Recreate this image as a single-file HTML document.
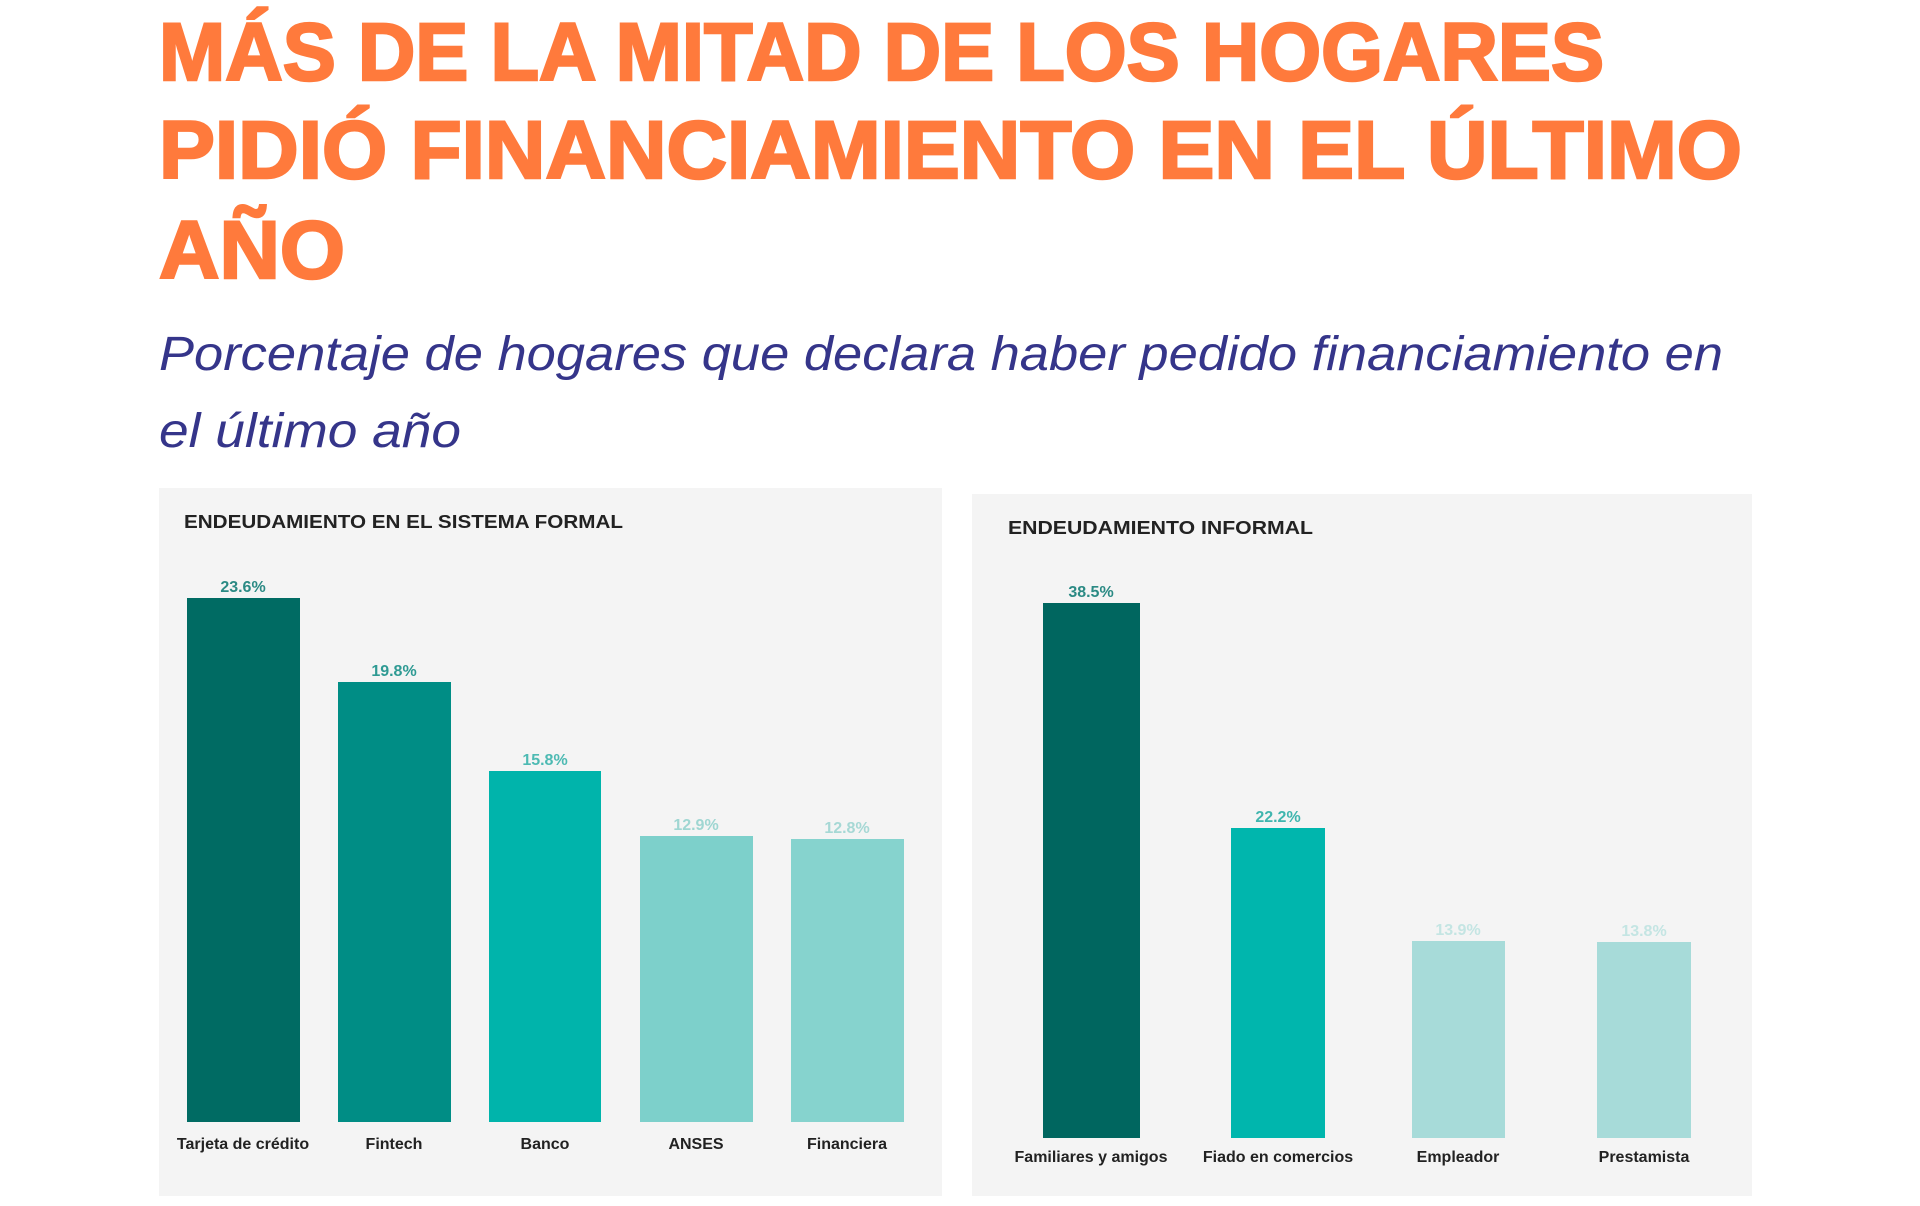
<!DOCTYPE html>
<html><head><meta charset="utf-8"><style>
html,body{margin:0;padding:0;background:#fff;}
svg{display:block;}
</style></head><body>
<svg width="1920" height="1206" viewBox="0 0 1920 1206" xmlns="http://www.w3.org/2000/svg">
<rect width="1920" height="1206" fill="#fff"/>
<g font-family="Liberation Sans, sans-serif" font-weight="bold" fill="#ff7a3c" stroke="#ff7a3c" stroke-width="2.5" font-size="82">
<text x="159" y="80" textLength="1445" lengthAdjust="spacingAndGlyphs">MÁS DE LA MITAD DE LOS HOGARES</text>
<text x="159" y="178" textLength="1583" lengthAdjust="spacingAndGlyphs">PIDIÓ FINANCIAMIENTO EN EL ÚLTIMO</text>
<text x="159" y="278" textLength="186" lengthAdjust="spacingAndGlyphs">AÑO</text>
</g>
<g font-family="Liberation Sans, sans-serif" font-style="italic" fill="#35358a" font-size="48">
<text x="159" y="370" textLength="1564" lengthAdjust="spacingAndGlyphs">Porcentaje de hogares que declara haber pedido financiamiento en</text>
<text x="159" y="447" textLength="302" lengthAdjust="spacingAndGlyphs">el último año</text>
</g>
<rect x="159" y="488" width="783" height="708" fill="#f4f4f4"/>
<rect x="972" y="494" width="780" height="702" fill="#f4f4f4"/>
<g font-family="Liberation Sans, sans-serif" font-weight="bold" font-size="18" fill="#222">
<text x="184" y="528" textLength="439" lengthAdjust="spacingAndGlyphs">ENDEUDAMIENTO EN EL SISTEMA FORMAL</text>
<text x="1008" y="534" textLength="305" lengthAdjust="spacingAndGlyphs">ENDEUDAMIENTO INFORMAL</text>
</g>
<g>
<rect x="187" y="598" width="113" height="524" fill="#006b63"/>
<rect x="338" y="682" width="113" height="440" fill="#008d85"/>
<rect x="489" y="771" width="112" height="351" fill="#00b4ab"/>
<rect x="640" y="836" width="113" height="286" fill="#7dd0cb"/>
<rect x="791" y="839" width="113" height="283" fill="#86d3ce"/>
<rect x="1043" y="603" width="97" height="535" fill="#00665f"/>
<rect x="1231" y="828" width="94" height="310" fill="#00b6ad"/>
<rect x="1412" y="941" width="93" height="197" fill="#a7dbd9"/>
<rect x="1597" y="942" width="94" height="196" fill="#a7dbd9"/>
</g>
<g font-family="Liberation Sans, sans-serif" font-weight="bold" font-size="16" text-anchor="middle">
<text x="243" y="592" fill="#2b8a84">23.6%</text>
<text x="394" y="676" fill="#2e9a93">19.8%</text>
<text x="545" y="765" fill="#4dbab3">15.8%</text>
<text x="696" y="830" fill="#9fd6d2">12.9%</text>
<text x="847" y="833" fill="#a6d8d5">12.8%</text>
<text x="1091" y="597" fill="#2b8a84">38.5%</text>
<text x="1278" y="822" fill="#3fb5ae">22.2%</text>
<text x="1458" y="935" fill="#c4e5e3">13.9%</text>
<text x="1644" y="936" fill="#c4e5e3">13.8%</text>
</g>
<g font-family="Liberation Sans, sans-serif" font-weight="bold" font-size="16" text-anchor="middle" fill="#222">
<text x="243" y="1149">Tarjeta de crédito</text>
<text x="394" y="1149">Fintech</text>
<text x="545" y="1149">Banco</text>
<text x="696" y="1149">ANSES</text>
<text x="847" y="1149">Financiera</text>
<text x="1091" y="1162">Familiares y amigos</text>
<text x="1278" y="1162">Fiado en comercios</text>
<text x="1458" y="1162">Empleador</text>
<text x="1644" y="1162">Prestamista</text>
</g>
</svg>
</body></html>
